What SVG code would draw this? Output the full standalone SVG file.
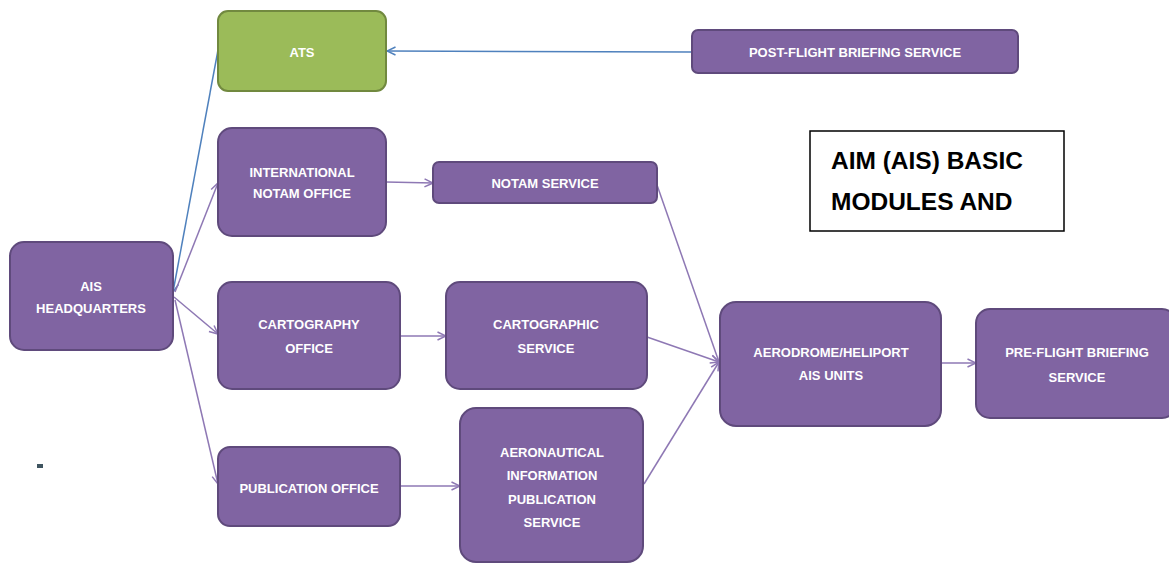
<svg xmlns="http://www.w3.org/2000/svg" width="1169" height="563" viewBox="0 0 1169 563">
<style>
.n{fill:#8064A2;stroke:#5F4A7C;stroke-width:2}
.g{fill:#9BBB59;stroke:#71893F;stroke-width:2}
.t{font-family:"Liberation Sans",Arial,sans-serif;font-weight:bold;font-size:13px;fill:#FFFFFF;text-anchor:middle}
.c{fill:none;stroke:#8E78B4;stroke-width:1.5}
.b{fill:none;stroke:#4F81BD;stroke-width:1.5}
.h{font-family:"Liberation Sans",Arial,sans-serif;font-weight:bold;font-size:24.5px;fill:#000000}
</style>
<defs>
<marker id="ap" viewBox="0 0 10 10" refX="9.5" refY="5" markerWidth="10" markerHeight="10" markerUnits="userSpaceOnUse" orient="auto">
<path d="M1,1 L9.5,5 L1,9" fill="none" stroke="#8E78B4" stroke-width="1.5"/>
</marker>
<marker id="ab" viewBox="0 0 10 10" refX="9.5" refY="5" markerWidth="10" markerHeight="10" markerUnits="userSpaceOnUse" orient="auto">
<path d="M1,1 L9.5,5 L1,9" fill="none" stroke="#4F81BD" stroke-width="1.5"/>
</marker>
</defs>
<rect width="1169" height="563" fill="#FFFFFF"/>
<g id="connectors">
<line class="b" x1="692" y1="52" x2="387" y2="51" marker-end="url(#ab)"/>
<line class="b" x1="218" y1="50" x2="173" y2="292" marker-end="url(#ab)"/>
<line class="c" x1="175" y1="292" x2="218" y2="183" marker-end="url(#ap)"/>
<line class="c" x1="174" y1="297" x2="218" y2="334" marker-end="url(#ap)"/>
<line class="c" x1="175" y1="300" x2="218" y2="484" marker-end="url(#ap)"/>
<line class="c" x1="386" y1="182" x2="433" y2="183" marker-end="url(#ap)"/>
<line class="c" x1="400" y1="336" x2="446" y2="336" marker-end="url(#ap)"/>
<line class="c" x1="400" y1="486" x2="460" y2="486" marker-end="url(#ap)"/>
<line class="c" x1="657" y1="185" x2="719" y2="362" marker-end="url(#ap)"/>
<line class="c" x1="647" y1="337" x2="719" y2="362" marker-end="url(#ap)"/>
<line class="c" x1="644" y1="484" x2="719" y2="362" marker-end="url(#ap)"/>
<line class="c" x1="941" y1="363" x2="976" y2="363" marker-end="url(#ap)"/>
</g>
<g id="ats">
<rect class="g" x="218" y="11" width="168" height="80" rx="10"/>
<text class="t" x="302" y="57">ATS</text>
</g>
<g id="post-flight">
<rect class="n" x="692" y="30" width="326" height="43" rx="6"/>
<text class="t" x="855" y="57">POST-FLIGHT BRIEFING SERVICE</text>
</g>
<g id="intl-notam">
<rect class="n" x="218" y="128" width="168" height="108" rx="14"/>
<text class="t" x="302" y="177">INTERNATIONAL</text>
<text class="t" x="302" y="198">NOTAM OFFICE</text>
</g>
<g id="ais-hq">
<rect class="n" x="10" y="242" width="163" height="108" rx="14"/>
<text class="t" x="91" y="291">AIS</text>
<text class="t" x="91" y="313">HEADQUARTERS</text>
</g>
<g id="notam-service">
<rect class="n" x="433" y="162" width="224" height="41" rx="6"/>
<text class="t" x="545" y="188">NOTAM SERVICE</text>
</g>
<g id="cartography-office">
<rect class="n" x="218" y="282" width="182" height="107" rx="14"/>
<text class="t" x="309" y="329">CARTOGRAPHY</text>
<text class="t" x="309" y="353">OFFICE</text>
</g>
<g id="cartographic-service">
<rect class="n" x="446" y="282" width="201" height="107" rx="14"/>
<text class="t" x="546" y="329">CARTOGRAPHIC</text>
<text class="t" x="546" y="353">SERVICE</text>
</g>
<g id="publication-office">
<rect class="n" x="218" y="447" width="182" height="79" rx="12"/>
<text class="t" x="309" y="493">PUBLICATION OFFICE</text>
</g>
<g id="aip-service">
<rect class="n" x="460" y="408" width="183" height="154" rx="16"/>
<text class="t" x="552" y="457">AERONAUTICAL</text>
<text class="t" x="552" y="480">INFORMATION</text>
<text class="t" x="552" y="504">PUBLICATION</text>
<text class="t" x="552" y="527">SERVICE</text>
</g>
<g id="aerodrome">
<rect class="n" x="720" y="302" width="221" height="124" rx="16"/>
<text class="t" x="831" y="357">AERODROME/HELIPORT</text>
<text class="t" x="831" y="380">AIS UNITS</text>
</g>
<g id="pre-flight">
<rect class="n" x="976" y="309" width="200" height="109" rx="14"/>
<text class="t" x="1077" y="357">PRE-FLIGHT BRIEFING</text>
<text class="t" x="1077" y="382">SERVICE</text>
</g>
<g id="title">
<rect x="810" y="131" width="254" height="100" fill="#FFFFFF" stroke="#000000" stroke-width="1.5"/>
<text class="h" x="831" y="169">AIM (AIS) BASIC</text>
<text class="h" x="831" y="210">MODULES AND</text>
</g>
<rect x="37" y="464" width="6" height="4" fill="#3F5560"/>
</svg>
